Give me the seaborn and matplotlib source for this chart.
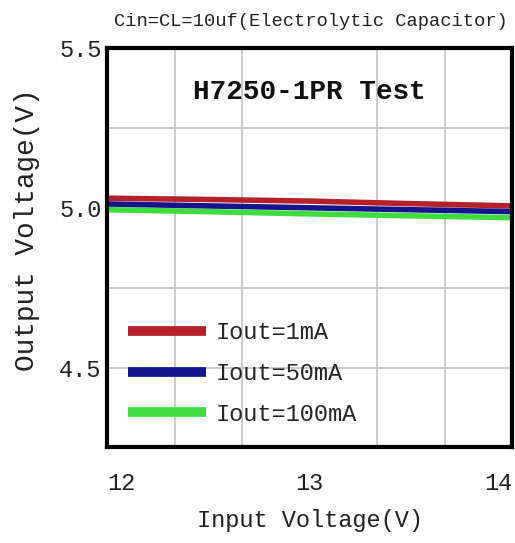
import numpy as np
import pandas as pd
import matplotlib
matplotlib.use("Agg")
import matplotlib.pyplot as plt
import seaborn as sns
from matplotlib.ticker import MultipleLocator

# Values
vin = [12.0, 12.5, 13.0, 13.5, 14.0]
vout_1ma = [5.030, 5.026, 5.021, 5.013, 5.006]
vout_50ma = [5.012, 5.006, 5.000, 4.994, 4.988]
vout_100ma = [4.994, 4.988, 4.981, 4.975, 4.969]
series_names = ["Iout=1mA", "Iout=50mA", "Iout=100mA"]
series_colors = ["#b5202a", "#14148c", "#3fdc3f"]
x_ticks = [12, 13, 14]
y_ticks = [4.5, 5.0, 5.5]

df = pd.DataFrame({
    "vin": vin * 3,
    "vout": vout_1ma + vout_50ma + vout_100ma,
    "load": [series_names[0]] * 5 + [series_names[1]] * 5 + [series_names[2]] * 5,
})

sns.set_theme(style="white")
plt.rcParams['font.family'] = ['Liberation Mono', 'DejaVu Sans Mono']

fig = plt.figure(figsize=(5.15, 5.43), dpi=100)
ax = fig.add_axes([0.208, 0.177, 0.787, 0.735])

sns.lineplot(data=df, x="vin", y="vout", hue="load", palette=series_colors,
             hue_order=series_names, linewidth=4, ax=ax)

ax.set_xlim(12, 14)
ax.set_ylim(4.253, 5.485)
ax.set_xticks(x_ticks)
ax.set_xticklabels([str(t) for t in x_ticks])
labels = ax.get_xticklabels()
labels[0].set_ha("left")
labels[-1].set_ha("right")
ax.set_yticks(y_ticks)
ax.set_yticklabels(["%.1f" % t for t in y_ticks])
ax.xaxis.set_minor_locator(MultipleLocator(1 / 3))
ax.yaxis.set_minor_locator(MultipleLocator(0.25))
ax.grid(which="minor", color="#c9c0c9", linewidth=1.2)
ax.grid(which="major", axis="y", color="#c9c0c9", linewidth=1.2)
ax.tick_params(axis="both", which="both", length=0, labelsize=17, colors="#222222")
ax.tick_params(axis="x", pad=18)
ax.tick_params(axis="y", pad=4)

for s in ax.spines.values():
    s.set_color("black")
    s.set_linewidth(3)

ax.set_xlabel("Input Voltage(V)", fontsize=17, color="#222222", labelpad=10)
ax.set_ylabel("Output Voltage(V)", fontsize=20, color="#222222")
ax.yaxis.set_label_coords(-0.165, 0.544)

ax.text(0.5, 0.89, "H7250-1PR Test", transform=ax.transAxes, ha="center", va="center",
        fontsize=20, fontweight="bold", color="#111111")
fig.text(0.604, 0.96, "Cin=CL=10uf(Electrolytic Capacitor)", ha="center", va="center",
         fontsize=13.5, color="#222222")

leg = ax.legend(loc="lower left", bbox_to_anchor=(0.0, 0.0), frameon=False,
                fontsize=17, handlelength=3.3, handletextpad=0.4, labelspacing=0.75,
                title=None)
for line in leg.get_lines():
    line.set_linewidth(7)
    line.set_solid_capstyle("butt")

fig.savefig("out.png", dpi=100, facecolor="white")
